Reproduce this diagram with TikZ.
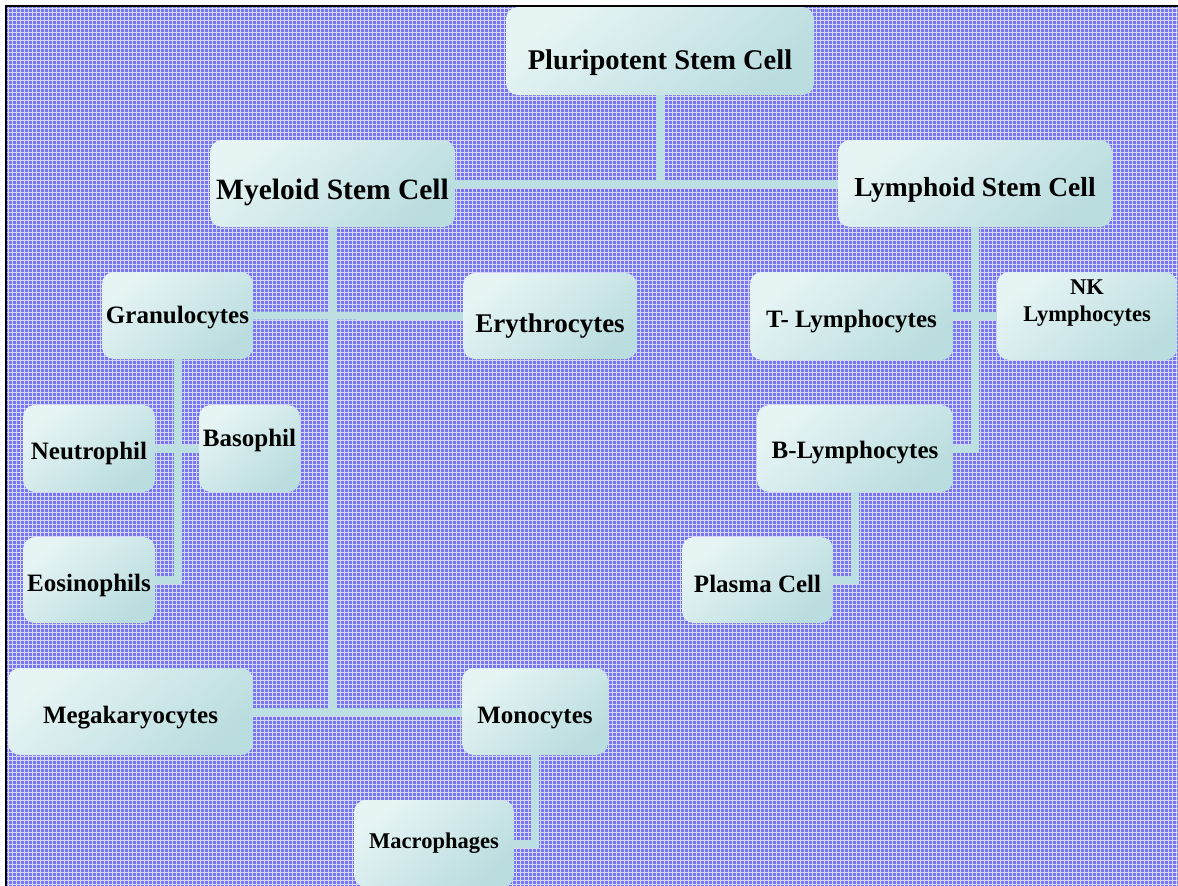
\documentclass[tikz,border=0pt]{standalone}
\usepackage{fontspec}
\setmainfont{Liberation Serif}
\definecolor{bgblue}{RGB}{118,118,244}
\definecolor{connc}{RGB}{188,224,226}
\definecolor{boxlight}{RGB}{231,244,244}
\definecolor{boxmid}{RGB}{221,239,240}
\definecolor{boxdark}{RGB}{186,221,223}
\tikzset{
  cellbox/.style={rectangle, rounded corners=12pt, top color=boxlight, middle color=boxmid, bottom color=boxdark, shading angle=40, draw=none, inner sep=0pt},
  conn/.style={draw=connc, line width=8pt},
  lbl/.style={text=black, inner sep=0pt, align=center},
  fA/.style={font=\bfseries\fontsize{28.5}{32}\selectfont},
  fB/.style={font=\bfseries\fontsize{29.5}{33}\selectfont},
  fC/.style={font=\bfseries\fontsize{27.5}{31}\selectfont},
  fD/.style={font=\bfseries\fontsize{25}{29}\selectfont},
  fE/.style={font=\bfseries\fontsize{27}{31}\selectfont},
  fF/.style={font=\bfseries\fontsize{22.5}{27}\selectfont},
}
\begin{document}
\begin{tikzpicture}[x=1pt,y=-1pt]
\useasboundingbox (0,0) rectangle (1178,886);
\fill[white] (0,0) rectangle (1178,886);
\fill[bgblue] (6,6) rectangle (1178,886);
\begin{scope}
\clip (6,6) rectangle (1178,886);
\draw[white, opacity=0.7, line width=0.8pt] (6,6) grid[step=4pt] (1178,886);
\end{scope}
\draw[black, line width=2pt] (5.5,886) -- (5.5,5.5) -- (1178,5.5);

% boxes
\node[cellbox, minimum width=308pt, minimum height=88pt, label={[lbl,fA,yshift=-12pt]center:Pluripotent Stem Cell}] (plu) at (660,51) {};
\node[cellbox, minimum width=245pt, minimum height=87pt, label={[lbl,fB,yshift=-8.5pt]center:Myeloid Stem Cell}] (mye) at (332.5,183.5) {};
\node[cellbox, minimum width=274pt, minimum height=87pt, label={[lbl,fC,yshift=-6.5pt]center:Lymphoid Stem Cell}] (lym) at (975,183.5) {};
\node[cellbox, minimum width=151pt, minimum height=87pt, label={[lbl,fD,yshift=-2.5pt]center:Granulocytes}] (gran) at (177.5,315.5) {};
\node[cellbox, minimum width=174pt, minimum height=86pt, label={[lbl,fE,yshift=-10pt]center:Erythrocytes}] (ery) at (550,316) {};
\node[cellbox, minimum width=203pt, minimum height=88pt, label={[lbl,fD,yshift=-6pt]center:T- Lymphocytes}] (tly) at (851.5,316) {};
\node[cellbox, minimum width=180pt, minimum height=88pt, label={[lbl,fF,yshift=12.5pt]center:{NK\\Lymphocytes}}] (nk) at (1087,316) {};
\node[cellbox, minimum width=132pt, minimum height=87pt, label={[lbl,fD,yshift=-4.5pt]center:Neutrophil}] (neu) at (89,448.5) {};
\node[cellbox, minimum width=101pt, minimum height=87pt, label={[lbl,fD,yshift=8.5pt]center:Basophil}] (bas) at (249.5,448.5) {};
\node[cellbox, minimum width=132pt, minimum height=86pt, label={[lbl,fD,yshift=-5pt]center:Eosinophils}] (eos) at (89,580) {};
\node[cellbox, minimum width=196pt, minimum height=87pt, label={[lbl,fD,yshift=-4.5pt]center:B-Lymphocytes}] (bly) at (855,448.5) {};
\node[cellbox, minimum width=151pt, minimum height=86pt, label={[lbl,fD,yshift=-4pt]center:Plasma Cell}] (pla) at (757.5,580) {};
\node[cellbox, minimum width=245pt, minimum height=87pt, label={[lbl,fD,yshift=-6.5pt]center:Megakaryocytes}] (meg) at (130.5,711.5) {};
\node[cellbox, minimum width=146pt, minimum height=87pt, label={[lbl,fD,yshift=-6.5pt]center:Monocytes}] (mon) at (535,711.5) {};
\node[cellbox, minimum width=160pt, minimum height=87pt, label={[lbl,fF]center:Macrophages}] (mac) at (434,843.5) {};

% connectors
\draw[conn] (plu.south) -- (plu.south |- mye.east);
\draw[conn] (mye.east) -- (lym.west);
\draw[conn] (mye.south) -- (mye.south |- meg.east);
\draw[conn] (meg.east) -- (mon.west);
\draw[conn] (gran.east) -- (ery.west);
\draw[conn] (neu.east) -- (bas.west);
\draw[conn] (gran.south) |- (eos.east);
\draw[conn] (lym.south) |- (bly.east);
\draw[conn] (tly.east) -- (nk.west);
\draw[conn] (bly.south) |- (pla.east);
\draw[conn] (mon.south) |- (mac.east);
\end{tikzpicture}
\end{document}
